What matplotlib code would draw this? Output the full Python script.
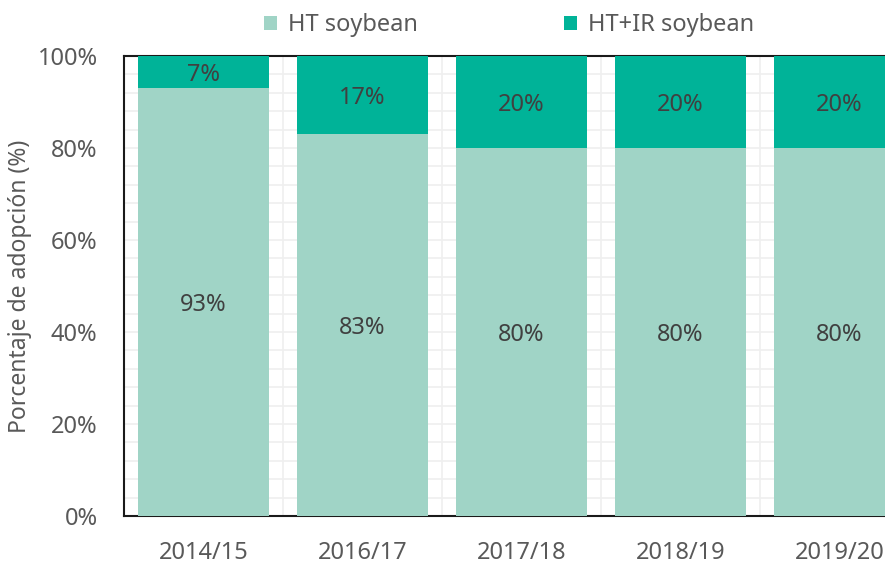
import matplotlib
matplotlib.use("Agg")
import matplotlib.pyplot as plt
import numpy as np
from matplotlib.ticker import MultipleLocator, FuncFormatter

categories = ["2014/15", "2016/17", "2017/18", "2018/19", "2019/20"]
ht = [93, 83, 80, 80, 80]
htir = [7, 17, 20, 20, 20]
series_names = ["HT soybean", "HT+IR soybean"]

plt.rcParams['font.family'] = ['Noto Sans', 'DejaVu Sans']

W, H = 885, 564
fig = plt.figure(figsize=(W/100, H/100), dpi=100)
ax_left, ax_bottom, ax_top = 124, 516, 56
ax_w = 795
ax = fig.add_axes([ax_left/W, (H-ax_bottom)/H, ax_w/W, (ax_bottom-ax_top)/H])

x = np.arange(len(categories))
c1 = "#A0D4C6"
c2 = "#00B398"
b1 = ax.bar(x, ht, width=0.83, color=c1, label=series_names[0], zorder=3)
b2 = ax.bar(x, htir, width=0.83, bottom=ht, color=c2, label=series_names[1], zorder=3)

fs = 17
for i in range(len(categories)):
    ax.text(x[i], ht[i]/2, f"{ht[i]}%", ha="center", va="center_baseline", fontsize=fs, color="#404040", zorder=4)
    ax.text(x[i], ht[i] + htir[i]/2, f"{htir[i]}%", ha="center", va="center_baseline", fontsize=fs, color="#404040", zorder=4)

ax.set_xlim(-0.5, len(categories)-0.5)
ax.set_ylim(0, 100)
ax.yaxis.set_major_locator(MultipleLocator(20))
ax.yaxis.set_minor_locator(MultipleLocator(4))
ax.yaxis.set_major_formatter(FuncFormatter(lambda v, p: f"{int(v)}%"))
ax.set_xticks(x)
ax.set_xticklabels(categories)
ax.set_xticks(np.arange(len(categories)+1) - 0.5, minor=True)
ax.grid(True, which="both", color="#EFEFEF", linewidth=1.2, zorder=0)
ax.grid(False, which="major", axis="x")
ax.tick_params(axis="both", which="both", length=0)
ax.tick_params(axis="y", labelsize=fs, labelcolor="#595959", pad=19)
ax.tick_params(axis="x", labelsize=fs, labelcolor="#595959", pad=18)

for s in ["left", "bottom", "top"]:
    ax.spines[s].set_color("#1a1a1a")
    ax.spines[s].set_linewidth(1.5)
ax.spines["right"].set_visible(False)

ax.set_ylabel("Porcentaje de adopción (%)", fontsize=16.5, color="#595959")
ax.yaxis.set_label_coords(-92/ax_w, 0.5)

fig.legend(handles=[b1, b2], labels=series_names, loc="center", bbox_to_anchor=(509/W, 1-25/H),
           ncol=2, frameon=False, fontsize=fs, labelcolor="#595959", handlelength=0.55, handleheight=0.55,
           handletextpad=0.45, columnspacing=6.2)

fig.savefig("out.png", dpi=100)
